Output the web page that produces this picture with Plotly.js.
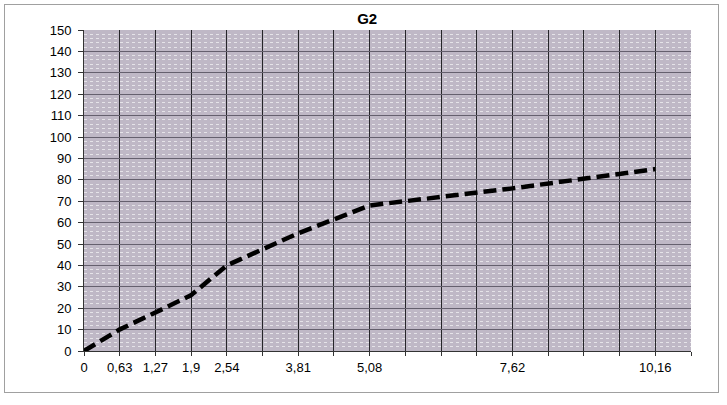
<!DOCTYPE html>
<html>
<head>
<meta charset="utf-8">
<script src="https://cdn.plot.ly/plotly-3.0.1.min.js"></script>
<style>
  html, body { margin: 0; padding: 0; background: #ffffff; }
  #frame {
    position: absolute; left: 4px; top: 4px;
    width: 713px; height: 387px;
    border: 1px solid #a0a0a0;
  }
  #chart { width: 713px; height: 387px; }
</style>
</head>
<body>
<div id="frame"><div id="chart"></div></div>
<script>
// G2 curve: displacement (x) against measured value (y)
const xValues = [0, 0.63, 1.27, 1.9, 2.54, 3.81, 5.08, 7.62, 10.16];
const yValues = [0, 10, 18, 26, 40, 55, 68, 76, 85];
const xTickLabels = ["0", "0,63", "1,27", "1,9", "2,54", "3,81", "5,08", "7,62", "10,16"];
const gridStep = 0.635;   // spacing of the vertical grid lines
const gridCount = 17;     // number of grid intervals across the plot

// one vertical grid line per interval; only the measured positions get a label
const gridVals = [];
const gridText = [];
for (let i = 0; i <= gridCount; i++) {
  const v = i * gridStep;
  gridVals.push(v);
  const k = xValues.findIndex(x => Math.abs(x - v) < 0.01);
  gridText.push(k >= 0 ? xTickLabels[k] : "");
}

const font = { family: "Liberation Sans, Arial, sans-serif", size: 13, color: "#000000" };

const trace = {
  x: xValues,
  y: yValues,
  type: "scatter",
  mode: "lines",
  line: { color: "#000000", width: 4.5, dash: "13px,6px" },
  hoverinfo: "skip"
};

const layout = {
  width: 713,
  height: 387,
  margin: { l: 79, r: 27, t: 25, b: 41 },
  paper_bgcolor: "#ffffff",
  plot_bgcolor: "#bfb8c6",
  font: font,
  showlegend: false,
  title: {
    text: "<b>G2</b>",
    font: { family: "Liberation Sans, Arial, sans-serif", size: 15, color: "#000000" },
    xref: "container", x: 0.508, xanchor: "center",
    yref: "container", y: 0.965, yanchor: "middle"
  },
  xaxis: {
    range: [0, gridStep * gridCount],
    tickmode: "array",
    tickvals: gridVals,
    ticktext: gridText,
    ticks: "outside",
    ticklen: 4,
    tickcolor: "#333333",
    showgrid: true,
    gridcolor: "#26262a",
    gridwidth: 1,
    showline: true,
    linecolor: "#333333",
    linewidth: 1,
    zeroline: false,
    tickfont: font,
    fixedrange: true
  },
  yaxis: {
    range: [0, 150],
    tickmode: "linear",
    tick0: 0,
    dtick: 10,
    ticks: "outside",
    ticklen: 5,
    tickcolor: "#333333",
    ticklabelstandoff: 4,
    showgrid: true,
    gridcolor: "#65606e",
    gridwidth: 1,
    minor: {
      dtick: 2,
      showgrid: true,
      gridcolor: "rgba(255,255,255,0.6)",
      griddash: "dot",
      gridwidth: 1
    },
    showline: true,
    linecolor: "#333333",
    linewidth: 1,
    zeroline: false,
    tickfont: font,
    fixedrange: true
  }
};

Plotly.newPlot("chart", [trace], layout, { displayModeBar: false, staticPlot: true });
</script>
</body>
</html>
